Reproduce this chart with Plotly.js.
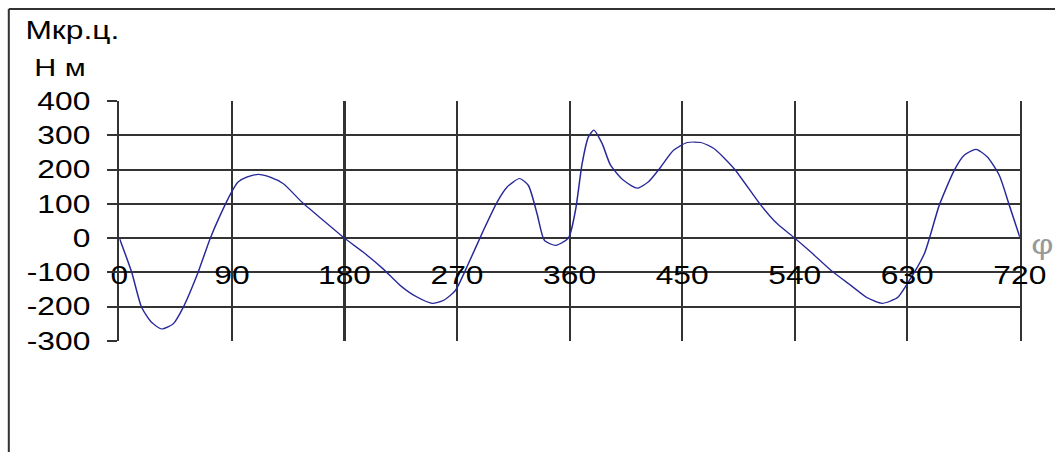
<!DOCTYPE html>
<html>
<head>
<meta charset="utf-8">
<script src="https://cdn.plot.ly/plotly-3.0.1.min.js"></script>
<style>
  html, body { margin: 0; padding: 0; background: #fff; overflow: hidden; }
  #chart { width: 830.7px; height: 452px; transform: scaleX(1.27); transform-origin: 0 0; }
</style>
</head>
<body>
<div id="chart"></div>
<script>
// Crank angle φ, degrees
const phi = [0, 9.8, 17.8, 25.8, 33.8, 43, 51, 63, 72.5, 80.5, 89.3, 95, 101.8, 111, 120.5, 131, 146, 163, 180,
  195, 211, 224.6, 238, 250, 259, 268.6, 279, 291, 302, 310, 320, 327, 334, 340, 349, 359,
  364.7, 370, 375, 379.4, 386, 392.7, 403, 414, 423, 433, 443, 454, 465, 475.5, 491.5, 513, 526, 540,
  553, 569, 585, 598, 610, 622, 630, 643.6, 655.6, 667.6, 675.6, 685, 694, 703.6, 711.6, 720];
// Crankshaft torque Мкр.ц., N·m
const torque = [0, -99, -202, -246, -265, -250, -202, -99, -2, 66, 132, 164, 178, 186, 178, 159, 105, 52, 0,
  -41, -90, -138, -172, -190, -182, -153, -75, 22, 105, 149, 174, 154, 71, -7, -21, 0,
  81, 217, 295, 315, 276, 213, 169, 146, 164, 208, 256, 279, 279, 261, 203, 96, 42, 0,
  -41, -94, -138, -174, -190, -174, -133, -46, 96, 198, 242, 259, 237, 183, 96, 3];
const xTicks = [0, 90, 180, 270, 360, 450, 540, 630, 720];
const yTicks = [-300, -200, -100, 0, 100, 200, 300, 400];
const yTitleLine1 = "Мкр.ц.";
const yTitleLine2 = "Н м";
const xTitle = "φ";

const tickFont = {family: "Liberation Sans, Arial, sans-serif", size: 25, color: "#000"};
const gridCol = "#333";

const trace = {
  x: phi, y: torque, type: "scatter", mode: "lines",
  line: {color: "#28289a", width: 1.2, shape: "spline", smoothing: 0.6},
  hoverinfo: "skip"
};

const layout = {
  width: 830.7, height: 452,
  margin: {l: 94.1, r: 28.1, t: 100.7, b: 111.3, pad: 0},
  paper_bgcolor: "#fff", plot_bgcolor: "#fff",
  showlegend: false,
  xaxis: {
    range: [0, 720], tickmode: "array", tickvals: xTicks, ticktext: xTicks.map(String),
    showgrid: true, gridcolor: gridCol, gridwidth: 1.6, zeroline: false,
    showline: false, ticks: "", anchor: "free", position: 0.347,
    tickfont: tickFont, fixedrange: true
  },
  yaxis: {
    range: [-300, 400], tickmode: "array", tickvals: yTicks, ticktext: yTicks.map(String),
    showgrid: true, gridcolor: gridCol, gridwidth: 2, zeroline: false,
    showline: true, mirror: true, linecolor: gridCol, linewidth: 1.6,
    ticks: "outside", ticklen: 8.3, tickwidth: 2, tickcolor: gridCol,
    ticklabelstandoff: 8,
    tickfont: tickFont, fixedrange: true
  },
  shapes: [
    {type: "line", xref: "paper", yref: "paper", x0: -0.1228, x1: 1.04, y0: 1.3832, y1: 1.3832,
     line: {color: "#333", width: 2}},
    {type: "line", xref: "paper", yref: "paper", x0: -0.1228, x1: -0.1228, y0: 1.3832, y1: -0.48,
     line: {color: "#333", width: 1.6}}
  ],
  annotations: [
    {text: yTitleLine1, xref: "paper", yref: "paper", x: -0.107, y: 1.2955, xanchor: "left", yanchor: "middle",
     showarrow: false, font: {family: "Liberation Sans, Arial, sans-serif", size: 25, color: "#000"}},
    {text: yTitleLine2, xref: "paper", yref: "paper", x: -0.0975, y: 1.1408, xanchor: "left", yanchor: "middle",
     showarrow: false, font: {family: "Liberation Sans, Arial, sans-serif", size: 24, color: "#000"}},
    {text: xTitle, xref: "paper", yref: "paper", x: 1.0253, y: 0.40, xanchor: "center", yanchor: "middle",
     showarrow: false, font: {family: "Liberation Sans, Arial, sans-serif", size: 27, color: "#999"}}
  ]
};

Plotly.newPlot("chart", [trace], layout, {staticPlot: true, displayModeBar: false});
</script>
</body>
</html>
